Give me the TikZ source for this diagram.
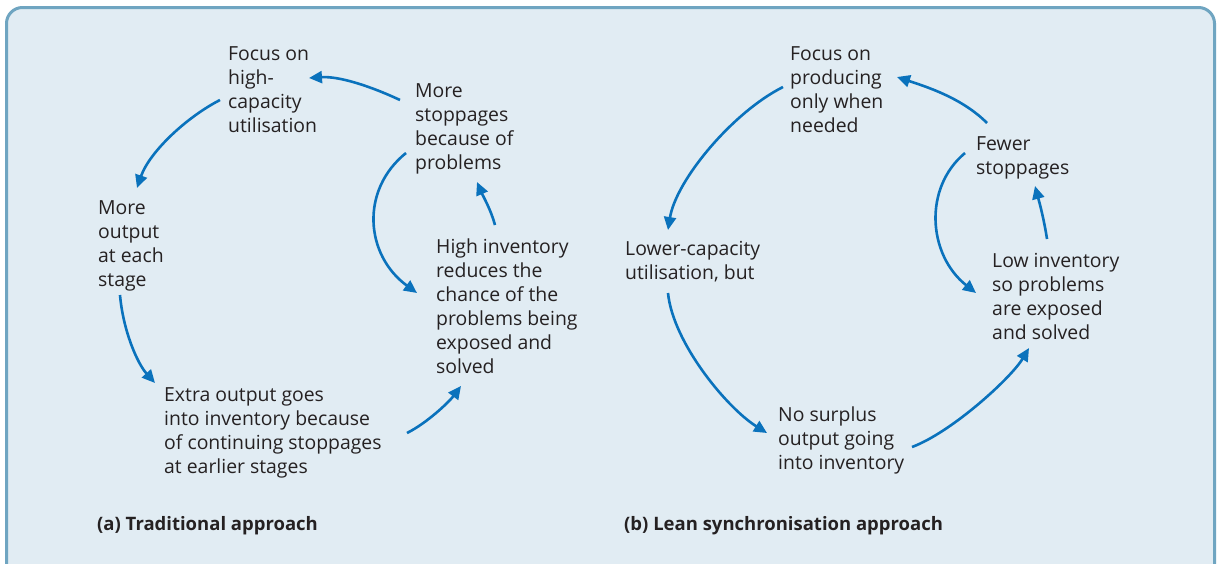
\documentclass[tikz,border=0pt]{standalone}
\usepackage{fontspec}
\setmainfont{Open Sans}
\usetikzlibrary{arrows.meta}
\definecolor{panelfill}{HTML}{E1ECF3}
\definecolor{panelline}{HTML}{6FA5C1}
\definecolor{flowblue}{HTML}{0A72BC}
\definecolor{txtgray}{HTML}{252122}

\begin{document}
\begin{tikzpicture}[x=1pt,y=-1pt,
  lbl/.style={anchor=base west,inner sep=0pt,align=left,text=txtgray,font=\fontsize{19.4}{24}\selectfont},
  caption/.style={lbl,font=\fontsize{18.5}{24}\selectfont\bfseries},
  flow/.style={draw=flowblue,line width=2.6pt,-{Triangle[length=13pt,width=12pt]}}]
\useasboundingbox (0,0) rectangle (1217,563);
\fill[white] (0,0) rectangle (1217,563);
\draw[panelline,fill=panelfill,line width=3pt,rounded corners=16pt] (6.5,7.5) rectangle (1214.5,580);
% (a) traditional approach
\node[lbl] (focA) at (228,132) {Focus on\\high-\\capacity\\utilisation};
\node[lbl] (stopA) at (415,169) {More\\stoppages\\because of\\problems};
\node[lbl] (outA) at (98,286) {More\\output\\at each\\stage};
\node[lbl] (invA) at (436,373) {High inventory\\reduces the\\chance of the\\problems being\\exposed and\\solved};
\node[lbl] (extraA) at (164,473) {Extra output goes\\into inventory because\\of continuing stoppages\\at earlier stages};
\node[caption] (capA) at (97,530) {(a) Traditional approach};
\draw[flow] ([shift={(-15,-69)}]stopA.base west) .. controls +(-30,-14) and +(30,-2) .. ([shift={(81,-54)}]focA.base west);
\draw[flow] ([shift={(-8,-32)}]focA.base west) .. controls +(-35,18) and +(12,-35) .. ([shift={(39,-98)}]outA.base west);
\draw[flow] ([shift={(22,9)}]outA.base west) .. controls +(3,35) and +(-18,-20) .. ([shift={(-9,-90)}]extraA.base west);
\draw[flow] ([shift={(243,-40)}]extraA.base west) .. controls +(20,-10) and +(-12,16) .. ([shift={(25,13)}]invA.base west);
\draw[flow] ([shift={(59,-148)}]invA.base west) .. controls +(-4,-15) and +(6,14) .. ([shift={(62,13)}]stopA.base west);
\draw[flow] ([shift={(-9,-16)}]stopA.base west) .. controls +(-46,37) and +(-52,-38) .. ([shift={(-19,-80)}]invA.base west);
% (b) lean synchronisation approach
\node[lbl] (focB) at (790,132) {Focus on\\producing\\only when\\needed};
\node[lbl] (fewB) at (976,174) {Fewer\\stoppages};
\node[lbl] (lowcapB) at (625,279) {Lower-capacity\\utilisation, but};
\node[lbl] (lowinvB) at (992,339) {Low inventory\\so problems\\are exposed\\and solved};
\node[lbl] (surplusB) at (778,469) {No surplus\\output going\\into inventory};
\node[caption] (capB) at (624,530) {(b) Lean synchronisation approach};
\draw[flow] ([shift={(11,-51)}]fewB.base west) .. controls +(-25,-25) and +(30,10) .. ([shift={(107,-55)}]focB.base west);
\draw[flow] ([shift={(-7,-45)}]focB.base west) .. controls +(-50,25) and +(8,-50) .. ([shift={(43,-49)}]lowcapB.base west);
\draw[flow] ([shift={(43,14)}]lowcapB.base west) .. controls +(5,50) and +(-40,-25) .. ([shift={(-11,-36)}]surplusB.base west);
\draw[flow] ([shift={(134,-22)}]surplusB.base west) .. controls +(40,-15) and +(-18,30) .. ([shift={(37,9)}]lowinvB.base west);
\draw[flow] ([shift={(55,-100)}]lowinvB.base west) .. controls +(-3,-20) and +(4,15) .. ([shift={(59,12)}]fewB.base west);
\draw[flow] ([shift={(-11,-21)}]fewB.base west) .. controls +(-42,35) and +(-48,-38) .. ([shift={(-16,-46)}]lowinvB.base west);
\end{tikzpicture}
\end{document}
